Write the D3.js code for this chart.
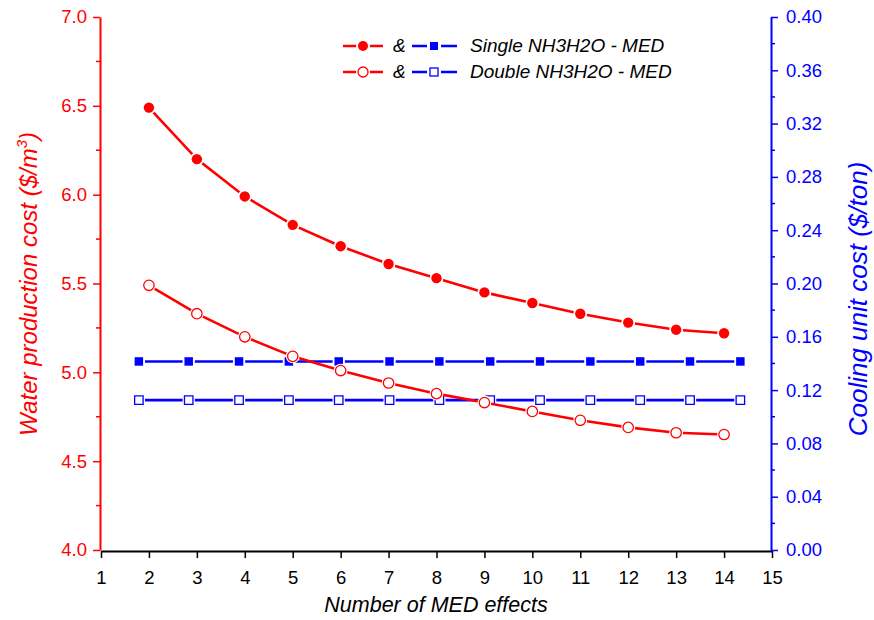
<!DOCTYPE html>
<html>
<head>
<meta charset="utf-8">
<script src="https://cdn.jsdelivr.net/npm/d3@7"></script>
<style>
body { margin: 0; background: #fff; }
text { font-family: Arial, "Liberation Sans", sans-serif; }
</style>
</head>
<body>
<svg id="chart" width="874" height="620"></svg>
<script>

// number of MED effects (red series)
var effects = [2, 3, 4, 5, 6, 7, 8, 9, 10, 11, 12, 13, 14]

// water production cost, $/m3
var waterSingle = [6.49, 6.20, 5.99, 5.83, 5.71, 5.61, 5.53, 5.45, 5.39, 5.33, 5.28, 5.24, 5.22]
var waterDouble = [5.49, 5.33, 5.20, 5.09, 5.01, 4.94, 4.88, 4.83, 4.78, 4.73, 4.69, 4.66, 4.65]

// cooling unit cost, $/ton (blue series sit on their own x positions)
var coolX = [1.79, 2.83, 3.88, 4.92, 5.96, 7.02, 8.06, 9.12, 10.16, 11.21, 12.25, 13.29, 14.34]
var coolSingle = [0.1415, 0.1415, 0.1415, 0.1415, 0.1415, 0.1415, 0.1415, 0.1415, 0.1415, 0.1415, 0.1415, 0.1415, 0.1415]
var coolDouble = [0.1125, 0.1125, 0.1125, 0.1125, 0.1125, 0.1125, 0.1125, 0.1125, 0.1125, 0.1125, 0.1125, 0.1125, 0.1125]

var xTicks = d3.range(1, 16)
var leftTicks = [4.0, 4.5, 5.0, 5.5, 6.0, 6.5, 7.0]
var rightTicks = [0, 0.04, 0.08, 0.12, 0.16, 0.20, 0.24, 0.28, 0.32, 0.36, 0.40]

var legendNames = ["Single NH3H2O - MED", "Double NH3H2O - MED"]

var RED = "#ff0000"
var BLUE = "#0000ff"

var svg = d3.select("#chart")

var x = d3.scaleLinear().domain([1, 15]).range([101, 772])
var yL = d3.scaleLinear().domain([4, 7]).range([550, 17])
var yR = d3.scaleLinear().domain([0, 0.4]).range([550, 17])

// x axis
var xAxis = svg.append("g")
        .attr("transform", "translate(0,551)")
        .call(d3.axisBottom(x).tickValues(xTicks).tickFormat(d3.format("d")).tickSize(7).tickSizeOuter(0))
xAxis.select(".domain").attr("stroke", "#000").attr("stroke-width", 2)
xAxis.selectAll(".tick line").attr("stroke", "#000").attr("stroke-width", 1.5)
xAxis.selectAll(".tick text").attr("font-size", "18.5px").attr("fill", "#000").attr("y", 20)

// left axis (red)
var leftAxis = svg.append("g")
        .attr("transform", "translate(100,0)")
        .call(d3.axisLeft(yL).tickValues(leftTicks).tickFormat(d3.format(".1f")).tickSize(7).tickSizeOuter(0))
leftAxis.select(".domain").attr("stroke", RED).attr("stroke-width", 2)
leftAxis.selectAll(".tick line").attr("stroke", RED).attr("stroke-width", 1.5)
leftAxis.selectAll(".tick text").attr("font-size", "18.5px").attr("fill", RED).attr("x", -13)

svg.append("g").selectAll("line")
        .data(d3.range(4.25, 7, 0.5))
        .enter().append("line")
        .attr("x1", 96).attr("x2", 100)
        .attr("y1", function(d) { return yL(d) })
        .attr("y2", function(d) { return yL(d) })
        .attr("stroke", RED).attr("stroke-width", 1.5)

// right axis (blue)
var rightAxis = svg.append("g")
        .attr("transform", "translate(771,0)")
        .call(d3.axisRight(yR).tickValues(rightTicks).tickFormat(d3.format(".2f")).tickSize(7).tickSizeOuter(0))
rightAxis.select(".domain").attr("stroke", BLUE).attr("stroke-width", 2)
rightAxis.selectAll(".tick line").attr("stroke", BLUE).attr("stroke-width", 1.5)
rightAxis.selectAll(".tick text").attr("font-size", "18.5px").attr("fill", BLUE).attr("x", 15)

svg.append("g").selectAll("line")
        .data(d3.range(0.02, 0.4, 0.04))
        .enter().append("line")
        .attr("x1", 771).attr("x2", 775)
        .attr("y1", function(d) { return yR(d) })
        .attr("y2", function(d) { return yR(d) })
        .attr("stroke", BLUE).attr("stroke-width", 1.5)

// axis titles
svg.append("text")
        .attr("x", 436).attr("y", 612)
        .attr("text-anchor", "middle")
        .attr("font-size", "21.5px").attr("font-style", "italic")
        .text("Number of MED effects")

var lt = svg.append("text")
        .attr("transform", "translate(37,284) rotate(-90)")
        .attr("text-anchor", "middle")
        .attr("font-size", "24px").attr("font-style", "italic")
        .attr("fill", RED)
lt.append("tspan").text("Water production cost ($/m")
lt.append("tspan").attr("font-size", "15px").attr("dy", -10).text("3")
lt.append("tspan").attr("dy", 10).text(")")

svg.append("text")
        .attr("transform", "translate(867,299) rotate(-90)")
        .attr("text-anchor", "middle")
        .attr("font-size", "26px").attr("font-style", "italic")
        .attr("fill", BLUE)
        .text("Cooling unit cost ($/ton)")

// series
function drawSeries(xs, ys, yScale, color, shape, filled) {
    var pts = xs.map(function(d, i) { return [x(d), yScale(ys[i])] })
    var g = svg.append("g")
    g.append("path")
        .attr("d", d3.line()(pts))
        .attr("fill", "none")
        .attr("stroke", color)
        .attr("stroke-width", 2.6)
    g.selectAll(".gap")
        .data(pts)
        .enter().append("path")
        .attr("transform", function(d) { return "translate(" + d[0] + "," + d[1] + ")" })
        .attr("d", d3.symbol().type(shape).size(150))
        .attr("fill", "#fff")
    g.selectAll(".mark")
        .data(pts)
        .enter().append("path")
        .attr("transform", function(d) { return "translate(" + d[0] + "," + d[1] + ")" })
        .attr("d", d3.symbol().type(shape).size(shape === d3.symbolSquare ? 72 : 85))
        .attr("fill", filled ? color : "#fff")
        .attr("stroke", color)
        .attr("stroke-width", filled ? 0 : 1.3)
}

drawSeries(coolX, coolSingle, yR, BLUE, d3.symbolSquare, true)
drawSeries(coolX, coolDouble, yR, BLUE, d3.symbolSquare, false)
drawSeries(effects, waterSingle, yL, RED, d3.symbolCircle, true)
drawSeries(effects, waterDouble, yL, RED, d3.symbolCircle, false)

// legend
var legend = svg.append("g")
var rows = [
    { y: 46, filled: true, name: legendNames[0] },
    { y: 72, filled: false, name: legendNames[1] }
]
rows.forEach(function(r) {
    legend.append("line").attr("x1", 343).attr("x2", 383).attr("y1", r.y).attr("y2", r.y)
        .attr("stroke", RED).attr("stroke-width", 2.6)
    legend.append("circle").attr("cx", 363).attr("cy", r.y).attr("r", 7).attr("fill", "#fff")
    legend.append("circle").attr("cx", 363).attr("cy", r.y).attr("r", 5)
        .attr("fill", r.filled ? RED : "#fff").attr("stroke", RED).attr("stroke-width", r.filled ? 0 : 1.3)
    legend.append("text").attr("x", 393).attr("y", r.y + 6)
        .attr("font-size", "19px").attr("font-style", "italic").text("&")
    legend.append("line").attr("x1", 412).attr("x2", 457).attr("y1", r.y).attr("y2", r.y)
        .attr("stroke", BLUE).attr("stroke-width", 2.6)
    legend.append("rect").attr("x", 427).attr("y", r.y - 7).attr("width", 14).attr("height", 14).attr("fill", "#fff")
    legend.append("rect").attr("x", 430).attr("y", r.y - 4).attr("width", 8).attr("height", 8)
        .attr("fill", r.filled ? BLUE : "#fff").attr("stroke", BLUE).attr("stroke-width", r.filled ? 0 : 1.3)
    legend.append("text").attr("x", 470).attr("y", r.y + 6)
        .attr("font-size", "19px").attr("font-style", "italic").text(r.name)
})

</script>
</body>
</html>
